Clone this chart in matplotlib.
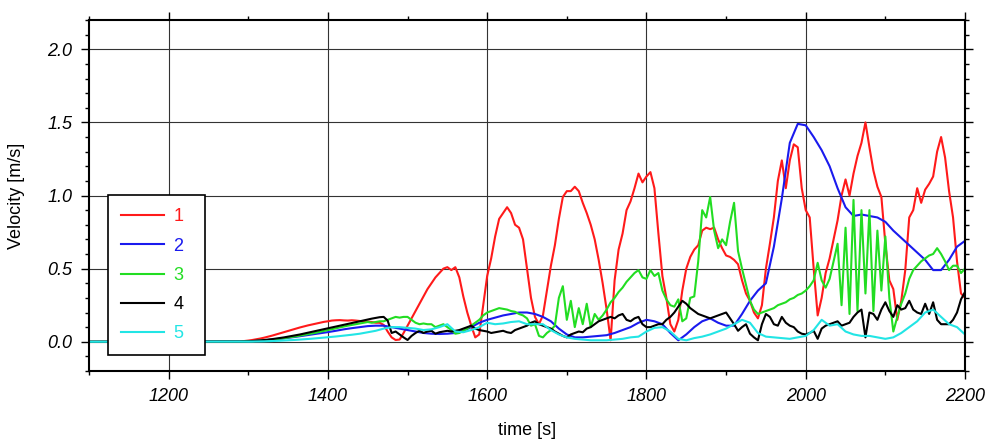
import numpy as np
import matplotlib
matplotlib.use('Agg')
import matplotlib.pyplot as plt
from matplotlib.ticker import MultipleLocator, FormatStrFormatter

plt.rcParams['font.family'] = ['Liberation Sans', 'DejaVu Sans']

# time axis (s): 5 s steps for the noisy gauges, 10 s steps for the smooth ones
t_fine = [1100] + list(range(1290, 2201, 5))
t_coarse = [1100] + list(range(1300, 2201, 10))

# gauge 1 (red)
vel_1 = [0.0,
         0.002, 0.005, 0.008, 0.012, 0.017, 0.022, 0.028, 0.035, 0.042, 0.05,
         0.058, 0.066, 0.074, 0.082, 0.09, 0.098, 0.105, 0.112, 0.118, 0.124,
         0.13, 0.136, 0.14, 0.145, 0.147, 0.148, 0.146, 0.145, 0.147, 0.145,
         0.142, 0.14, 0.138, 0.135, 0.13, 0.13, 0.115, 0.07, 0.03, 0.012,
         0.015, 0.06, 0.11, 0.16, 0.21, 0.26, 0.31, 0.36, 0.40, 0.44,
         0.47, 0.50, 0.51, 0.49, 0.51, 0.44, 0.31, 0.20, 0.11, 0.03,
         0.05, 0.25, 0.45, 0.57, 0.72, 0.84, 0.88, 0.92, 0.88, 0.80,
         0.78, 0.70, 0.50, 0.30, 0.17, 0.12, 0.18, 0.35, 0.52, 0.66,
         0.84, 0.99, 1.03, 1.03, 1.06, 1.03, 0.95, 0.88, 0.80, 0.70,
         0.56, 0.40, 0.22, 0.01, 0.42, 0.63, 0.74, 0.90, 0.96, 1.05,
         1.15, 1.09, 1.13, 1.16, 1.05, 0.74, 0.45, 0.30, 0.12, 0.07,
         0.15, 0.35, 0.50, 0.58, 0.63, 0.66, 0.76, 0.78, 0.77, 0.78,
         0.70, 0.64, 0.59, 0.58, 0.56, 0.53, 0.42, 0.33, 0.28, 0.20,
         0.16, 0.25, 0.50, 0.67, 0.85, 1.10, 1.24, 1.05, 1.24, 1.35,
         1.33, 1.05, 0.90, 0.85, 0.50, 0.18, 0.30, 0.47, 0.57, 0.70,
         0.83, 1.00, 1.11, 1.00, 1.15, 1.27, 1.36, 1.50, 1.33, 1.17,
         1.06, 0.99, 0.67, 0.42, 0.36, 0.15, 0.28, 0.49, 0.85, 0.90,
         1.05, 0.95, 1.04, 1.08, 1.13, 1.30, 1.40, 1.26, 1.03, 0.85,
         0.55, 0.33, 0.30]

# gauge 3 (green)
vel_3 = [0.0,
         0.001, 0.002, 0.003, 0.004, 0.006, 0.008, 0.01, 0.012, 0.015, 0.018,
         0.021, 0.025, 0.029, 0.033, 0.037, 0.042, 0.047, 0.052, 0.057, 0.062,
         0.068, 0.074, 0.08, 0.086, 0.092, 0.098, 0.104, 0.11, 0.115, 0.12,
         0.125, 0.13, 0.135, 0.13, 0.135, 0.14, 0.14, 0.15, 0.16, 0.17,
         0.165, 0.17, 0.17, 0.15, 0.13, 0.12, 0.125, 0.12, 0.12, 0.10,
         0.11, 0.12, 0.10, 0.08, 0.055, 0.06, 0.075, 0.09, 0.11, 0.13,
         0.15, 0.18, 0.20, 0.21, 0.22, 0.23, 0.225, 0.22, 0.21, 0.205,
         0.19, 0.18, 0.16, 0.11, 0.12, 0.04, 0.03, 0.06, 0.08, 0.11,
         0.30, 0.38, 0.15, 0.28, 0.10, 0.23, 0.12, 0.26, 0.10, 0.19,
         0.15, 0.18, 0.22, 0.27, 0.30, 0.34, 0.37, 0.41, 0.44, 0.47,
         0.49, 0.44, 0.43, 0.49, 0.45, 0.47, 0.35, 0.29, 0.25, 0.24,
         0.29, 0.14, 0.16, 0.30, 0.31, 0.55, 0.90, 0.85, 0.99, 0.76,
         0.64, 0.70, 0.66, 0.82, 0.95, 0.62, 0.50, 0.39, 0.28, 0.22,
         0.19, 0.20, 0.21, 0.22, 0.23, 0.25, 0.26, 0.27, 0.29, 0.30,
         0.32, 0.33, 0.35, 0.38, 0.42, 0.54, 0.42, 0.37, 0.43, 0.55,
         0.67, 0.25, 0.78, 0.19, 0.97, 0.21, 0.90, 0.33, 0.90, 0.21,
         0.76, 0.35, 0.72, 0.30, 0.07, 0.17, 0.26, 0.33, 0.43, 0.49,
         0.52, 0.55, 0.57, 0.59, 0.60, 0.64, 0.60, 0.55, 0.49, 0.52,
         0.52, 0.47, 0.50]

# gauge 4 (black)
vel_4 = [0.0,
         0.001, 0.002, 0.003, 0.005, 0.007, 0.009, 0.012, 0.015, 0.018, 0.022,
         0.026, 0.03, 0.035, 0.04, 0.045, 0.05, 0.056, 0.062, 0.068, 0.074,
         0.08, 0.086, 0.092, 0.098, 0.104, 0.11, 0.116, 0.122, 0.128, 0.134,
         0.14, 0.146, 0.152, 0.158, 0.163, 0.168, 0.17, 0.145, 0.06, 0.07,
         0.05, 0.03, 0.012, 0.04, 0.06, 0.075, 0.06, 0.07, 0.075, 0.055,
         0.065, 0.07, 0.075, 0.07, 0.075, 0.08, 0.09, 0.10, 0.11, 0.09,
         0.08, 0.075, 0.07, 0.06, 0.065, 0.07, 0.075, 0.065, 0.06, 0.08,
         0.09, 0.10, 0.11, 0.13, 0.14, 0.12, 0.11, 0.10, 0.09, 0.07,
         0.055, 0.04, 0.03, 0.05, 0.06, 0.07, 0.065, 0.09, 0.10, 0.12,
         0.14, 0.15, 0.16, 0.17, 0.16, 0.18, 0.19, 0.15, 0.14, 0.16,
         0.17, 0.12, 0.10, 0.10, 0.11, 0.12, 0.12, 0.15, 0.17, 0.20,
         0.24, 0.28, 0.26, 0.23, 0.21, 0.19, 0.18, 0.17, 0.16, 0.17,
         0.18, 0.19, 0.20, 0.16, 0.12, 0.075, 0.10, 0.12, 0.055, 0.03,
         0.01, 0.12, 0.19, 0.17, 0.12, 0.11, 0.17, 0.13, 0.11, 0.10,
         0.07, 0.055, 0.05, 0.06, 0.075, 0.02, 0.09, 0.11, 0.12, 0.13,
         0.14, 0.11, 0.12, 0.13, 0.17, 0.20, 0.22, 0.03, 0.20, 0.19,
         0.15, 0.22, 0.27, 0.21, 0.17, 0.25, 0.22, 0.23, 0.28, 0.22,
         0.20, 0.19, 0.26, 0.19, 0.27, 0.15, 0.12, 0.12, 0.12, 0.15,
         0.20, 0.29, 0.34]

# gauge 2 (blue), smooth
vel_2 = [0.0,
         0.003, 0.006, 0.01, 0.015, 0.02, 0.027, 0.034, 0.042, 0.05, 0.058,
         0.066, 0.075, 0.085, 0.093, 0.10, 0.107, 0.11, 0.11, 0.10, 0.09,
         0.08, 0.07, 0.06, 0.055, 0.053, 0.055, 0.06, 0.075, 0.10, 0.13,
         0.15, 0.165, 0.18, 0.19, 0.20, 0.20, 0.19, 0.17, 0.14, 0.09,
         0.05, 0.03, 0.03, 0.035, 0.04, 0.045, 0.06, 0.08, 0.10, 0.13,
         0.15, 0.14, 0.12, 0.06, 0.01, 0.05, 0.10, 0.14, 0.16, 0.13,
         0.11, 0.11, 0.19, 0.28, 0.35, 0.40, 0.65, 0.98, 1.36, 1.49,
         1.48, 1.40, 1.31, 1.20, 1.05, 0.92, 0.86, 0.87, 0.86, 0.85,
         0.82, 0.76, 0.71, 0.66, 0.61, 0.56, 0.49, 0.49, 0.56, 0.65,
         0.69]

# gauge 5 (cyan)
vel_5 = [0.0,
         0.001, 0.002, 0.003, 0.005, 0.007, 0.01, 0.013, 0.017, 0.021, 0.026,
         0.031, 0.036, 0.042, 0.048, 0.055, 0.065, 0.075, 0.09, 0.10, 0.10,
         0.095, 0.09, 0.08, 0.085, 0.10, 0.12, 0.07, 0.065, 0.08, 0.10,
         0.13, 0.12, 0.125, 0.135, 0.14, 0.12, 0.12, 0.12, 0.08, 0.05,
         0.03, 0.02, 0.015, 0.01, 0.01, 0.01, 0.015, 0.02, 0.03, 0.035,
         0.07, 0.095, 0.10, 0.07, 0.02, 0.01, 0.025, 0.035, 0.05, 0.07,
         0.09, 0.12, 0.15, 0.13, 0.06, 0.035, 0.03, 0.025, 0.02, 0.03,
         0.04, 0.08, 0.15, 0.11, 0.12, 0.07, 0.05, 0.04, 0.04, 0.03,
         0.02, 0.03, 0.06, 0.10, 0.14, 0.20, 0.22, 0.17, 0.12, 0.10,
         0.05]

fig = plt.figure(figsize=(9.87, 4.44), dpi=100)
ax = fig.add_axes([0.0902, 0.1644, 0.8875, 0.7905])

ax.plot(t_fine, vel_1, color='#ff1a1a', lw=1.5, label='1')
ax.plot(t_coarse, vel_2, color='#1a1aee', lw=1.5, label='2')
ax.plot(t_fine, vel_3, color='#22dd22', lw=1.5, label='3')
ax.plot(t_fine, vel_4, color='black', lw=1.5, label='4')
ax.plot(t_coarse, vel_5, color='#22e5e5', lw=1.5, label='5')

ax.set_xlim(1100, 2200)
ax.set_ylim(-0.2, 2.2)
ax.xaxis.set_major_locator(MultipleLocator(200))
ax.xaxis.set_minor_locator(MultipleLocator(100))
ax.yaxis.set_major_locator(MultipleLocator(0.5))
ax.yaxis.set_minor_locator(MultipleLocator(0.1))
ax.yaxis.set_major_formatter(FormatStrFormatter('%.1f'))

ax.tick_params(which='both', direction='out', top=True, right=True, width=1.0)
ax.tick_params(which='major', length=6, labelsize=13, pad=6)
ax.tick_params(which='minor', length=3)
for lbl in ax.get_xticklabels() + ax.get_yticklabels():
    lbl.set_fontstyle('italic')

ax.grid(which='major', color='#333333', lw=0.8)
for sp in ax.spines.values():
    sp.set_linewidth(1.5)

ax.set_xlabel('time [s]', fontsize=13)
ax.set_ylabel('Velocity [m/s]', fontsize=13)
ax.xaxis.set_label_coords(0.5, -0.145)
ax.yaxis.set_label_coords(-0.073, 0.5)

leg = ax.legend(loc='upper left', bbox_to_anchor=(0.0217, 0.0427, 0.1107, 0.458),
                mode='expand', borderaxespad=0, fontsize=13, handlelength=2.4,
                handletextpad=0.5, labelspacing=0.68, borderpad=0.72,
                fancybox=False, framealpha=1, edgecolor='black',
                labelcolor='linecolor')
leg.get_frame().set_linewidth(1.2)

fig.savefig('out.png', dpi=100)
